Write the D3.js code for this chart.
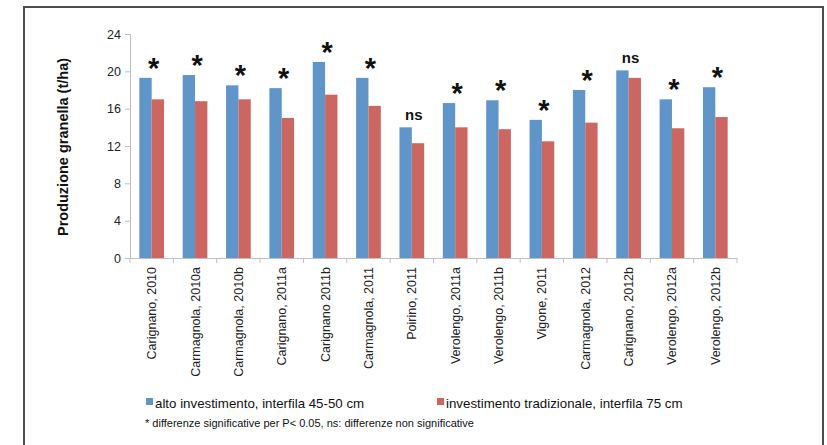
<!DOCTYPE html>
<html>
<head>
<meta charset="utf-8">
<script src="https://cdn.jsdelivr.net/npm/d3@7"></script>
<style>
  body { margin: 0; background: #fff; }
  svg { font-family: "Liberation Sans", Arial, sans-serif; }
</style>
</head>
<body>
<script>
// Chart size
var w = 827;
var h = 445;

// Data
var sites = ["Carignano, 2010", "Carmagnola, 2010a", "Carmagnola, 2010b", "Carignano, 2011a",
  "Carignano 2011b", "Carmagnola, 2011", "Poirino, 2011", "Verolengo, 2011a", "Verolengo, 2011b",
  "Vigone, 2011", "Carmagnola, 2012", "Carignano, 2012b", "Verolengo, 2012a", "Verolengo, 2012b"];
var altoInv = [19.3, 19.6, 18.5, 18.2, 21.0, 19.3, 14.0, 16.6, 16.9, 14.8, 18.0, 20.1, 17.0, 18.3];
var tradInv = [17.0, 16.8, 17.0, 15.0, 17.5, 16.3, 12.3, 14.0, 13.8, 12.5, 14.5, 19.3, 13.9, 15.1];
var signif = ["*", "*", "*", "*", "*", "*", "ns", "*", "*", "*", "*", "ns", "*", "*"];
var yTicks = [0, 4, 8, 12, 16, 20, 24];
var seriesNames = ["alto investimento, interfila 45-50 cm", "investimento tradizionale, interfila 75 cm"];
var colors = ["#6095c9", "#cc6661"];

var svg = d3.select("body")
  .append("svg")
  .attr("width", w)
  .attr("height", h);

// outer frame
svg.append("rect")
  .attr("x", 24).attr("y", 7)
  .attr("width", 799).attr("height", 460)
  .attr("fill", "none")
  .attr("stroke", "#4d4d4d")
  .attr("stroke-width", 2);

var pLeft = 130, pRight = 737, pTop = 34, pBottom = 258;

var x0 = d3.scaleBand()
  .domain(sites)
  .range([pLeft, pRight])
  .paddingInner(0.43)
  .paddingOuter(0.215);

var x1 = d3.scaleBand()
  .domain([0, 1])
  .range([0, x0.bandwidth()]);

var y = d3.scaleLinear()
  .domain([0, 24])
  .range([pBottom, pTop]);

// axes
var yAxis = svg.append("g")
  .attr("transform", "translate(" + pLeft + ",0)")
  .call(d3.axisLeft(y).tickValues(yTicks).tickSize(5).tickPadding(4));
yAxis.select(".domain").attr("stroke", "#bfbfbf");
yAxis.selectAll(".tick line").attr("stroke", "#bfbfbf");
yAxis.selectAll(".tick text")
  .attr("font-size", 12.5)
  .attr("fill", "#222")
  .attr("font-family", "Liberation Sans, Arial, sans-serif");

var step = x0.step();
var xAxisG = svg.append("g").attr("class", "xaxis");
xAxisG.append("line")
  .attr("x1", pLeft).attr("x2", pRight)
  .attr("y1", pBottom + 0.5).attr("y2", pBottom + 0.5)
  .attr("stroke", "#bfbfbf");
xAxisG.selectAll("line.tick")
  .data(d3.range(sites.length + 1))
  .enter().append("line")
  .classed("tick", true)
  .attr("x1", function(i) { return pLeft + i * step; })
  .attr("x2", function(i) { return pLeft + i * step; })
  .attr("y1", pBottom)
  .attr("y2", pBottom + 5)
  .attr("stroke", "#bfbfbf");

xAxisG.selectAll("text")
  .data(sites)
  .enter().append("text")
  .attr("transform", function(d) {
    return "translate(" + (x0(d) + x0.bandwidth() / 2 + 4.5) + "," + (pBottom + 9) + ") rotate(-90)";
  })
  .attr("text-anchor", "end")
  .attr("font-size", 12.5)
  .attr("fill", "#222")
  .text(function(d) { return d; });

// bars
var groups = svg.append("g").selectAll("g")
  .data(sites)
  .enter().append("g")
  .attr("transform", function(d) { return "translate(" + x0(d) + ",0)"; });

groups.selectAll("rect")
  .data(function(d, i) { return [altoInv[i], tradInv[i]]; })
  .enter().append("rect")
  .attr("x", function(v, j) { return x1(j); })
  .attr("y", function(v) { return y(v); })
  .attr("width", x1.bandwidth())
  .attr("height", function(v) { return y(0) - y(v); })
  .attr("fill", function(v, j) { return colors[j]; });

// significance marks
groups.append("text")
  .attr("x", x0.bandwidth() / 2 + 2)
  .attr("y", function(d, i) {
    var t = y(Math.max(altoInv[i], tradInv[i]));
    return signif[i] == "*" ? t : t - 7;
  })
  .attr("text-anchor", "middle")
  .attr("font-weight", "bold")
  .attr("font-size", function(d, i) { return signif[i] == "*" ? 29 : 15; })
  .attr("fill", "#111")
  .text(function(d, i) { return signif[i]; });

// y axis title
svg.append("text")
  .attr("transform", "translate(68,147) rotate(-90)")
  .attr("text-anchor", "middle")
  .attr("font-weight", "bold")
  .attr("font-size", 14.5)
  .attr("fill", "#111")
  .text("Produzione granella (t/ha)");

// legend
var legendX = [146, 437];
var legend = svg.append("g").selectAll("g")
  .data(seriesNames)
  .enter().append("g")
  .attr("transform", function(d, i) { return "translate(" + legendX[i] + ",398)"; });
legend.append("rect")
  .attr("width", 7).attr("height", 7)
  .attr("fill", function(d, i) { return colors[i]; });
legend.append("text")
  .attr("x", 9).attr("y", 10)
  .attr("font-size", 13.3)
  .attr("fill", "#111")
  .text(function(d) { return d; });

svg.append("text")
  .attr("x", 145).attr("y", 427)
  .attr("font-size", 11)
  .attr("fill", "#111")
  .text("* differenze significative per P< 0.05, ns: differenze non significative");
</script>
</body>
</html>
